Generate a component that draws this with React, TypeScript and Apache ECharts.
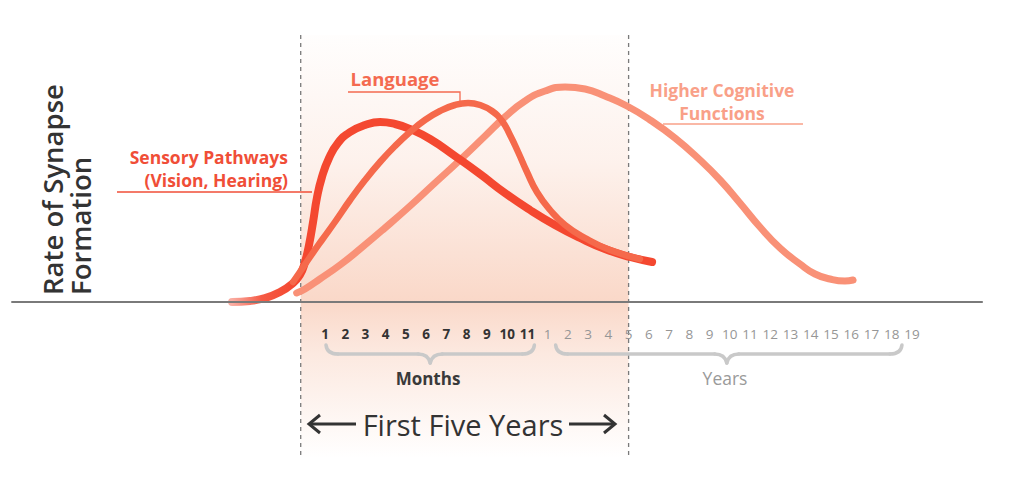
import React, { useEffect, useRef } from "react";
import * as echarts from "echarts";

// Tick labels along the bottom (months of first year, then years)
const monthLabels = ["1", "2", "3", "4", "5", "6", "7", "8", "9", "10", "11"];
const yearLabels = ["1", "2", "3", "4", "5", "6", "7", "8", "9", "10", "11", "12", "13", "14", "15", "16", "17", "18", "19"];
const tickLabels = [...monthLabels, ...yearLabels];

// Key positions on the x scale (tick index units)
const birthX = -1.2;
const fiveYearsX = 15;

// Curves: x in tick-index units, y in relative rate (0..100)
const sensoryX = [-4.59, -3.71, -2.96, -2.22, -1.63, -1.24, -0.99, -0.79, -0.59, -0.4, -0.15, 0.2, 0.64, 1.24, 1.98, 2.72, 3.46, 4.2, 5.19, 6.42, 7.66, 8.89, 10.13, 11.36, 12.6, 13.83, 15.07, 16.16];
const sensoryY = [0, 0.4, 1.6, 4, 7.2, 10.8, 16, 22.8, 32, 41.6, 50, 57.6, 63.6, 68, 70.8, 72, 71.2, 69.2, 65.2, 58.4, 51.2, 43.6, 36.8, 30.8, 25.6, 21.2, 18, 16];

const languageX = [-1.58, -1.24, -0.74, -0.15, 0.49, 1.24, 1.98, 2.72, 3.46, 4.2, 4.94, 5.68, 6.42, 7.07, 7.66, 8.25, 8.75, 9.14, 9.54, 9.98, 10.47, 11.12, 11.86, 12.85, 14.08, 15.56];
const languageY = [8, 12, 18, 24.8, 32, 40.8, 48.8, 56, 62.4, 68, 72.8, 76.4, 78.8, 79.6, 78.8, 76.4, 72.4, 66.8, 60, 52, 44, 36.8, 30.8, 25.6, 20.8, 17.2];

const higherX = [-1.4, -0.99, -0.25, 0.74, 1.73, 2.96, 4.2, 5.43, 6.67, 7.91, 8.89, 9.88, 10.87, 11.86, 12.85, 13.83, 14.92, 16.06, 17.29, 18.53, 19.52, 20.5, 21.49, 22.48, 23.47, 24.21, 24.95, 25.69, 26.09];
const higherY = [3.6, 5.2, 9.2, 14.8, 21.2, 29.6, 38.4, 47.6, 56.8, 66.4, 74, 80.4, 84.4, 86, 85.2, 82.4, 78.4, 72.8, 65.6, 56.8, 48.8, 39.6, 30, 21.6, 15.2, 11.2, 9.2, 8.4, 8.8];

const zip = (xs: number[], ys: number[]) => xs.map((x, i) => [x, ys[i]]);

const FONT = "'Open Sans', 'Noto Sans', sans-serif";

function brace(x1: number, x2: number, xm: number, yTop: number, yMid: number, yTip: number, color: string) {
  const r = 12;
  const st = { stroke: color, lineWidth: 3.5, fill: "none", lineCap: "round" };
  return [
    { type: "bezierCurve", shape: { x1: x1, y1: yTop, x2: x1 + r, y2: yMid, cpx1: x1 + 1, cpy1: yMid }, style: st, silent: true },
    { type: "line", shape: { x1: x1 + r, y1: yMid, x2: xm - r, y2: yMid }, style: st, silent: true },
    { type: "bezierCurve", shape: { x1: xm - r, y1: yMid, x2: xm, y2: yTip, cpx1: xm - 2, cpy1: yMid }, style: st, silent: true },
    { type: "bezierCurve", shape: { x1: xm, y1: yTip, x2: xm + r, y2: yMid, cpx1: xm + 2, cpy1: yMid }, style: st, silent: true },
    { type: "line", shape: { x1: xm + r, y1: yMid, x2: x2 - r, y2: yMid }, style: st, silent: true },
    { type: "bezierCurve", shape: { x1: x2 - r, y1: yMid, x2: x2, y2: yTop, cpx1: x2 - 1, cpy1: yMid }, style: st, silent: true },
  ];
}

function txt(text: string, x: number, y: number, o: any) {
  const style: any = {
    text,
    fill: o.fill,
    fontSize: o.fontSize,
    fontWeight: o.fontWeight || "normal",
    fontFamily: FONT,
    align: o.align || "center",
    textAlign: o.align || "center",
    verticalAlign: o.verticalAlign || "middle",
    textVerticalAlign: o.verticalAlign || "middle",
  };
  if (o.lineHeight) style.lineHeight = o.lineHeight;
  return { type: "text", x, y, rotation: o.rotation || 0, silent: true, style };
}

export default function App() {
  const ref = useRef<HTMLDivElement>(null);

  useEffect(() => {
    if (!ref.current) return;
    const chart = echarts.init(ref.current, undefined, { renderer: "svg" });

    const option: any = {
      animation: false,
      backgroundColor: "#ffffff",
      grid: { left: 1.16, right: 31.08, top: 52, bottom: 196, containLabel: false, outerBoundsMode: "none" },
      xAxis: {
        type: "value",
        min: -16,
        max: 33,
        interval: 1,
        axisLine: { show: false },
        axisTick: { show: false },
        splitLine: { show: false },
        axisLabel: {
          margin: 25,
          formatter: (v: number) => {
            const i = Math.round(v);
            if (i < 0 || i >= tickLabels.length) return "";
            return i < monthLabels.length ? `{m|${tickLabels[i]}}` : `{y|${tickLabels[i]}}`;
          },
          rich: {
            m: { fontFamily: FONT, fontSize: 13.5, fontWeight: 700, color: "#333333" },
            y: { fontFamily: FONT, fontSize: 13.5, fontWeight: 400, color: "#969696" },
          },
        },
      },
      yAxis: { type: "value", min: 0, max: 100, show: false },
      series: [
        {
          name: "Higher Cognitive Functions",
          type: "line",
          data: zip(higherX, higherY),
          smooth: 0.5,
          showSymbol: false,
          symbol: "none",
          z: 2,
          lineStyle: { color: "#F99177", width: 7, cap: "round", join: "round" },
          markLine: {
            silent: true,
            symbol: "none",
            label: { show: false },
            lineStyle: { color: "#7a7a7a", width: 2, type: "solid" },
            data: [[{ coord: [-15.5, 0] }, { coord: [32.5, 0] }]],
          },
        },
        {
          name: "Sensory Pathways",
          type: "line",
          data: zip(sensoryX, sensoryY),
          smooth: 0.5,
          showSymbol: false,
          symbol: "none",
          z: 3,
          lineStyle: {
            width: 8,
            cap: "round",
            join: "round",
            color: {
              type: "linear",
              x: 0,
              y: 0,
              x2: 1,
              y2: 0,
              colorStops: [
                { offset: 0, color: "rgba(244,72,48,0.45)" },
                { offset: 0.07, color: "rgba(244,72,48,0.9)" },
                { offset: 0.15, color: "rgba(244,72,48,1)" },
                { offset: 1, color: "rgba(244,72,48,1)" },
              ],
            },
          },
        },
        {
          name: "Language",
          type: "line",
          data: zip(languageX, languageY),
          smooth: 0.5,
          showSymbol: false,
          symbol: "none",
          z: 4,
          lineStyle: { color: "#F5694B", width: 6.5, cap: "round", join: "round" },
        },
      ],
    };
    chart.setOption(option);

    const px = (v: number) => chart.convertToPixel({ xAxisIndex: 0 }, v) as number;
    const xl = px(birthX);
    const xr = px(fiveYearsX);

    const graphics: any[] = [
      {
        type: "rect",
        z: -10,
        silent: true,
        shape: { x: xl, y: 35, width: xr - xl, height: 423 },
        style: {
          fill: {
            type: "linear",
            x: 0,
            y: 0,
            x2: 0,
            y2: 1,
            colorStops: [
              { offset: 0, color: "rgba(245,180,150,0.02)" },
              { offset: 0.3, color: "rgba(245,180,150,0.18)" },
              { offset: 0.63, color: "rgba(245,180,150,0.52)" },
              { offset: 0.75, color: "rgba(245,180,150,0.3)" },
              { offset: 1, color: "rgba(245,180,150,0.0)" },
            ],
          },
        },
      },
      { type: "line", z: -5, silent: true, shape: { x1: xl, y1: 35, x2: xl, y2: 458 }, style: { stroke: "#7a7a7a", lineWidth: 1.3, lineDash: [4, 4] } },
      { type: "line", z: -5, silent: true, shape: { x1: xr, y1: 35, x2: xr, y2: 458 }, style: { stroke: "#7a7a7a", lineWidth: 1.3, lineDash: [4, 4] } },
      // Y axis title (two lines, rotated)
      txt("Rate of Synapse", 52, 295, { rotation: Math.PI / 2, fill: "#333333", fontSize: 27.5, fontWeight: 600, align: "left", verticalAlign: "middle", lineHeight: 27 }),
      txt("Formation", 80, 295, { rotation: Math.PI / 2, fill: "#333333", fontSize: 27.5, fontWeight: 600, align: "left", verticalAlign: "middle", lineHeight: 27 }),
      // Sensory label + leader
      txt("Sensory Pathways", 288, 157, { fill: "#F04E37", fontSize: 17.5, fontWeight: 700, align: "right", lineHeight: 20 }),
      txt("(Vision, Hearing)", 288, 180, { fill: "#F04E37", fontSize: 17.5, fontWeight: 700, align: "right", lineHeight: 20 }),
      { type: "line", silent: true, shape: { x1: 117, y1: 192, x2: 312, y2: 192 }, style: { stroke: "#F04E37", lineWidth: 1.3 } },
      // Language label + leader
      txt("Language", 395, 78, { fill: "#F46A50", fontSize: 18.5, fontWeight: 700, lineHeight: 20 }),
      { type: "polyline", silent: true, shape: { points: [[348, 92], [460, 92], [460, 102]] }, style: { stroke: "#F46A50", lineWidth: 1.3, fill: "none" } },
      // Higher cognitive label + leader
      txt("Higher Cognitive", 722, 90, { fill: "#F9A088", fontSize: 17.5, fontWeight: 700, lineHeight: 20 }),
      txt("Functions", 722, 113, { fill: "#F9A088", fontSize: 17.5, fontWeight: 700, lineHeight: 20 }),
      { type: "line", silent: true, shape: { x1: 663, y1: 124, x2: 803, y2: 124 }, style: { stroke: "#F9A088", lineWidth: 1.3 } },
      // Braces
      ...brace(px(0) + 1, px(10) + 7, (px(0) + px(10)) / 2 + 4, 345, 354, 363, "#c9c9c9"),
      ...brace(px(11) + 8, px(29) - 10, (px(11) + px(29)) / 2 - 3, 345, 354, 363, "#c9c9c9"),
      txt("Months", 428, 378, { fill: "#3a3a3a", fontSize: 17, fontWeight: 700 }),
      txt("Years", 725, 378, { fill: "#9a9a9a", fontSize: 17.5, fontWeight: 400 }),
      // First five years with arrows
      txt("First Five Years", 463, 424, { fill: "#333333", fontSize: 29, fontWeight: 400 }),
      { type: "line", silent: true, shape: { x1: 310, y1: 424, x2: 356, y2: 424 }, style: { stroke: "#333333", lineWidth: 3 } },
      { type: "polyline", silent: true, shape: { points: [[320, 415], [309, 424], [320, 433]] }, style: { stroke: "#333333", lineWidth: 3, fill: "none", lineJoin: "miter" } },
      { type: "line", silent: true, shape: { x1: 569, y1: 424, x2: 614, y2: 424 }, style: { stroke: "#333333", lineWidth: 3 } },
      { type: "polyline", silent: true, shape: { points: [[604, 415], [615, 424], [604, 433]] }, style: { stroke: "#333333", lineWidth: 3, fill: "none", lineJoin: "miter" } },
    ];
    chart.setOption({ graphic: graphics });

    return () => chart.dispose();
  }, []);

  return <div ref={ref} style={{ position: "fixed", left: 0, top: 0, width: 1024, height: 498 }} />;
}
